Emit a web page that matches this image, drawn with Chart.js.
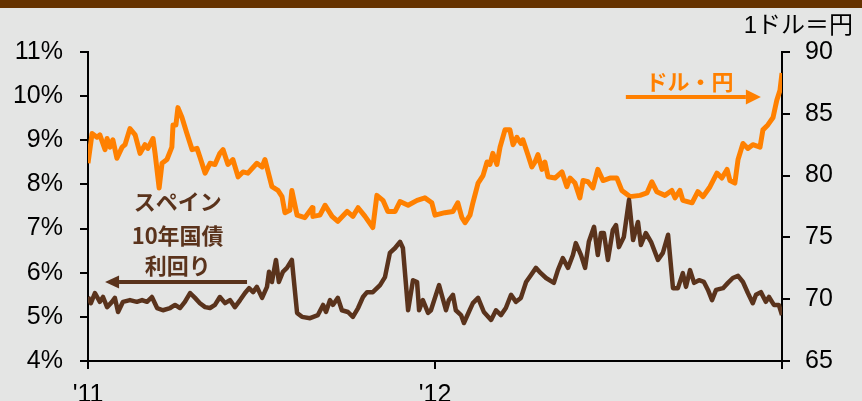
<!DOCTYPE html>
<html>
<head>
<meta charset="utf-8">
<script src="https://cdn.jsdelivr.net/npm/chart.js@4/dist/chart.umd.min.js"></script>
<style>
  html, body { margin: 0; padding: 0; background: #e4e5e4; }
  #wrap { position: relative; width: 862px; height: 401px; overflow: hidden; }
  #bar { position: absolute; left: 0; top: 0; width: 862px; height: 8px; background: #663300; }
  canvas { position: absolute; left: 0; top: 0; }
</style>
</head>
<body>
<div id="wrap">
  <canvas id="chart_canvas" width="862" height="401"></canvas>
  <div id="bar"></div>
</div>
<script>
// months since Jan 2011 ('11 = 0, '12 = 12)
var yenMonths = [0.00,0.14,0.31,0.41,0.59,0.66,0.76,0.86,1.00,1.18,1.28,1.45,1.63,1.80,1.97,2.07,2.25,2.32,2.46,2.56,
  2.73,2.90,2.94,3.04,3.11,3.25,3.42,3.60,3.77,3.87,4.05,4.22,4.39,4.56,4.67,4.84,5.01,5.19,5.36,5.53,
  5.84,6.02,6.12,6.36,6.57,6.71,6.81,6.98,7.05,7.23,7.50,7.75,7.78,8.02,8.20,8.44,8.64,8.96,9.16,9.34,
  9.58,9.85,9.99,10.20,10.37,10.62,10.79,11.07,11.38,11.65,11.89,12.00,12.34,12.62,12.79,12.93,13.04,13.21,13.31,13.49,
  13.66,13.80,13.90,14.00,14.14,14.25,14.42,14.59,14.70,14.83,14.97,15.04,15.21,15.35,15.46,15.56,15.70,15.80,15.91,16.15,
  16.39,16.56,16.67,16.84,17.01,17.12,17.29,17.46,17.63,17.81,18.05,18.29,18.46,18.74,19.09,19.33,19.50,19.67,19.95,20.19,
  20.30,20.47,20.57,20.89,21.09,21.27,21.51,21.75,21.92,22.10,22.20,22.37,22.48,22.65,22.82,22.99,23.24,23.34,23.51,23.69,
  23.82,23.93,24.00];
var yenValues = [81.0,83.4,83.1,83.3,82.1,83.0,82.3,82.9,81.4,82.3,82.5,83.8,83.3,81.8,82.5,82.2,83.0,81.8,79.0,81.0,
  81.3,82.3,84.1,84.1,85.5,84.7,83.4,82.1,82.2,81.5,80.2,81.0,80.9,81.8,82.1,80.9,81.3,79.9,80.3,80.2,
  81.0,80.7,81.3,79.1,78.8,78.3,77.0,77.2,78.8,76.8,76.6,77.4,76.7,76.8,77.6,76.7,76.3,77.1,76.7,77.4,
  76.7,75.8,78.4,78.0,77.1,77.1,77.9,77.6,78.0,78.2,77.8,76.8,77.0,77.1,77.8,76.6,76.2,76.8,77.8,79.4,
  80.0,81.1,80.9,81.8,80.9,82.3,83.7,83.7,82.5,83.1,82.6,82.9,81.7,80.7,81.1,81.7,80.5,81.1,79.9,79.8,
  80.3,79.1,79.8,79.4,78.2,79.6,79.5,79.0,80.5,79.6,79.8,79.8,78.8,78.3,78.4,78.6,79.5,78.7,78.4,78.8,
  78.2,78.8,78.0,77.8,78.7,78.3,79.1,80.2,79.8,80.5,79.6,79.4,81.3,82.6,82.2,82.5,82.3,83.7,84.1,84.7,
  86.1,86.9,88.3];

var spainMonths = [0.00,0.10,0.24,0.41,0.52,0.66,0.83,0.93,1.04,1.21,1.45,1.69,1.87,2.04,2.21,2.39,2.59,2.84,3.01,3.18,
  3.35,3.53,3.70,3.87,4.05,4.22,4.39,4.56,4.74,4.91,5.08,5.26,5.43,5.57,5.71,5.84,6.02,6.19,6.26,6.36,
  6.50,6.60,6.74,6.88,7.05,7.23,7.40,7.68,7.95,8.13,8.23,8.37,8.47,8.64,8.78,8.99,9.16,9.34,9.51,9.65,
  9.85,10.10,10.27,10.44,10.62,10.79,10.89,11.07,11.24,11.38,11.45,11.58,11.76,11.86,12.14,12.38,12.48,12.62,12.72,12.90,
  13.00,13.17,13.31,13.49,13.69,13.94,14.11,14.28,14.45,14.63,14.80,14.97,15.15,15.32,15.49,15.66,15.84,16.11,16.25,16.42,
  16.60,16.77,16.87,17.05,17.19,17.32,17.50,17.63,17.74,17.84,17.98,18.15,18.26,18.36,18.53,18.71,18.85,19.02,19.12,19.29,
  19.47,19.71,19.88,20.06,20.23,20.40,20.57,20.68,20.82,20.96,21.13,21.30,21.44,21.58,21.72,21.96,22.13,22.30,22.48,22.65,
  22.82,22.99,23.10,23.27,23.44,23.55,23.72,23.89,24.00];
var spainValues = [5.45,5.31,5.54,5.34,5.45,5.22,5.34,5.43,5.11,5.34,5.38,5.34,5.38,5.34,5.45,5.20,5.15,5.20,5.27,5.20,
  5.34,5.54,5.43,5.31,5.22,5.20,5.27,5.45,5.31,5.38,5.22,5.38,5.54,5.65,5.56,5.68,5.43,5.68,6.02,5.79,
  6.29,5.79,6.02,6.11,6.29,5.09,5.00,4.97,5.04,5.27,5.11,5.38,5.27,5.43,5.15,5.11,5.00,5.20,5.45,5.56,
  5.56,5.72,5.90,6.45,6.56,6.70,6.56,5.15,5.83,5.79,5.15,5.38,5.09,5.15,5.72,5.15,5.38,5.50,5.15,5.04,
  4.86,5.11,5.31,5.43,5.11,4.93,5.15,5.04,5.20,5.50,5.34,5.43,5.79,5.95,6.11,5.99,5.88,5.77,6.06,6.33,
  6.11,6.40,6.67,6.40,6.11,6.70,7.04,6.40,6.90,6.90,6.29,6.97,7.08,6.58,6.81,7.65,6.74,7.15,6.63,6.90,
  6.70,6.29,6.45,6.86,5.65,5.65,5.99,5.68,6.06,5.77,5.83,5.79,5.61,5.38,5.61,5.65,5.77,5.88,5.93,5.79,
  5.54,5.31,5.50,5.56,5.34,5.45,5.27,5.27,5.04];

var xTickLabels = { 0: "'11", 12: "'12" };

function toPoints(xs, ys) {
  return xs.map(function (x, i) { return { x: x, y: ys[i] }; });
}

var numFont = { family: "'Liberation Sans', Arial, sans-serif", size: 25 };

// annotations (text + arrows) drawn on the canvas, anchored in data units
const notesPlugin = {
  id: 'notes',
  afterDatasetsDraw(chart) {
    const ctx = chart.ctx;
    const x = chart.scales.x, yl = chart.scales.yLeft, yr = chart.scales.yRight;
    ctx.save();

    // unit label above right axis
    ctx.fillStyle = '#000';
    ctx.font = "24px 'Liberation Sans', 'Noto Sans CJK JP', sans-serif";
    ctx.textAlign = 'right';
    ctx.textBaseline = 'middle';
    ctx.fillText('1ドル＝円', 853, 26);

    // yen label + arrow to the right
    ctx.fillStyle = '#ff8000';
    ctx.strokeStyle = '#ff8000';
    ctx.font = "bold 22px 'Noto Sans CJK JP', sans-serif";
    ctx.textAlign = 'center';
    ctx.fillText('ドル・円', x.getPixelForValue(20.8), yr.getPixelForValue(87.6));
    drawArrow(ctx, x.getPixelForValue(18.6), x.getPixelForValue(23.27), yr.getPixelForValue(86.36), 15, 15);

    // spain label + arrow to the left
    ctx.fillStyle = '#5a331c';
    ctx.strokeStyle = '#5a331c';
    ctx.fillText('スペイン', x.getPixelForValue(3.1), yl.getPixelForValue(7.60));
    ctx.fillText('10年国債', x.getPixelForValue(3.1), yl.getPixelForValue(6.85));
    ctx.fillText('利回り', x.getPixelForValue(3.1), yl.getPixelForValue(6.17));
    drawArrow(ctx, x.getPixelForValue(5.5), x.getPixelForValue(0.59), yl.getPixelForValue(5.79), 14, 13);

    ctx.restore();
  }
};

function drawArrow(ctx, x0, x1, y, headLen, headH) {
  var dir = x1 > x0 ? 1 : -1;
  ctx.lineWidth = 4;
  ctx.beginPath();
  ctx.moveTo(x0, y);
  ctx.lineTo(x1 - dir * headLen, y);
  ctx.stroke();
  ctx.beginPath();
  ctx.moveTo(x1, y);
  ctx.lineTo(x1 - dir * headLen, y - headH / 2);
  ctx.lineTo(x1 - dir * headLen, y + headH / 2);
  ctx.closePath();
  ctx.fill();
}

const config_chart = {
  type: 'line',
  data: {
    datasets: [
      {
        label: 'スペイン10年国債利回り',
        data: toPoints(spainMonths, spainValues),
        borderColor: '#5a331c',
        borderWidth: 4.5,
        pointRadius: 0,
        tension: 0,
        borderJoinStyle: 'round',
        yAxisID: 'yLeft'
      },
      {
        label: 'ドル・円',
        data: toPoints(yenMonths, yenValues),
        borderColor: '#ff8000',
        borderWidth: 5,
        pointRadius: 0,
        tension: 0,
        borderJoinStyle: 'round',
        yAxisID: 'yRight'
      }
    ]
  },
  options: {
    responsive: false,
    animation: false,
    layout: { padding: { top: 52, left: 0, right: 0, bottom: 0 } },
    plugins: {
      legend: { display: false },
      tooltip: { enabled: false }
    },
    scales: {
      x: {
        type: 'linear',
        min: 0,
        max: 24,
        afterBuildTicks: function (scale) {
          scale.ticks = [{ value: 0 }, { value: 12 }, { value: 24 }];
        },
        afterFit: function (scale) { scale.height = 40; },
        border: { display: true, color: '#000', width: 2 },
        grid: { drawOnChartArea: false, drawTicks: true, tickLength: 8, color: '#000', lineWidth: 2 },
        ticks: {
          autoSkip: false,
          maxRotation: 0,
          padding: 11,
          color: '#000',
          font: numFont,
          callback: function (v) { return xTickLabels[v] || ''; }
        }
      },
      yLeft: {
        position: 'left',
        min: 4,
        max: 11,
        afterFit: function (scale) { scale.width = 88; },
        border: { display: true, color: '#000', width: 2 },
        grid: { drawOnChartArea: false, drawTicks: true, tickLength: 8, color: '#000', lineWidth: 2 },
        ticks: {
          stepSize: 1,
          padding: 17,
          color: '#000',
          font: numFont,
          callback: function (v) { return v + '%'; }
        }
      },
      yRight: {
        position: 'right',
        min: 65,
        max: 90,
        afterFit: function (scale) { scale.width = 80; },
        border: { display: true, color: '#000', width: 2 },
        grid: { drawOnChartArea: false, drawTicks: true, tickLength: 8, color: '#000', lineWidth: 2 },
        ticks: {
          stepSize: 5,
          padding: 15,
          color: '#000',
          font: numFont
        }
      }
    }
  },
  plugins: [notesPlugin]
};

const MainChart = new Chart(
  document.getElementById('chart_canvas'),
  config_chart
);
</script>
</body>
</html>
